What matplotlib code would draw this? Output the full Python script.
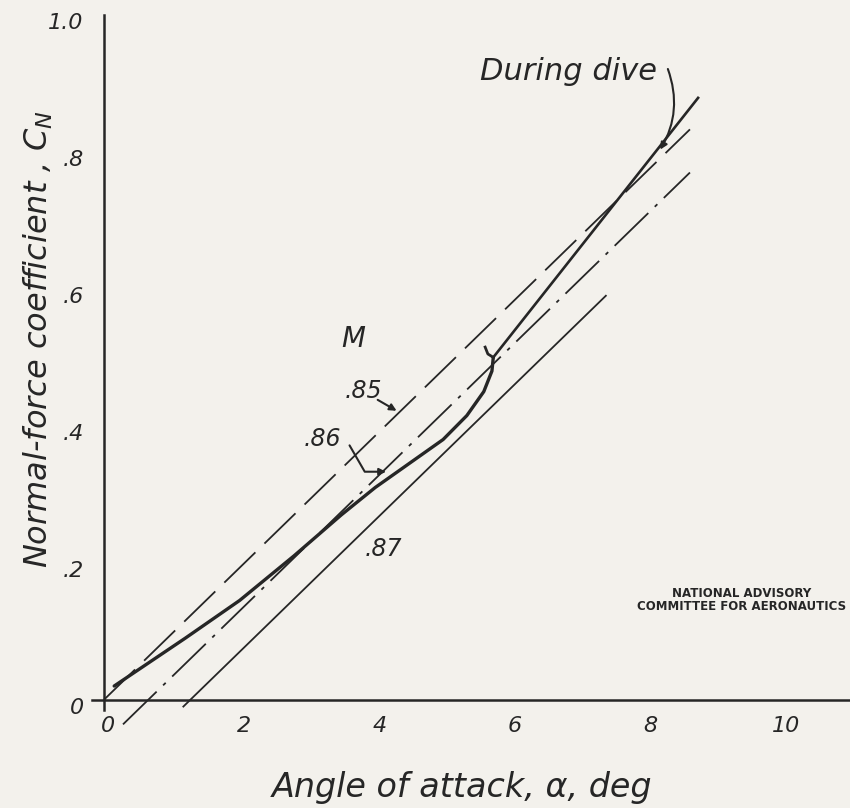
import matplotlib
matplotlib.use("Agg")
import matplotlib.pyplot as plt

# ---- data ----
x_ticks = [0, 2, 4, 6, 8, 10]
x_tick_labels = ["0", "2", "4", "6", "8", "10"]
y_ticks = [0, 0.2, 0.4, 0.6, 0.8, 1.0]
y_tick_labels = ["0", ".2", ".4", ".6", ".8", "1.0"]

# faired flight data (during dive)
dive_x = [0.15, 0.6, 1.2, 2.0, 2.8, 3.5, 4.0, 4.5, 5.0, 5.35, 5.6, 5.72, 5.74]
dive_y = [0.02, 0.05, 0.09, 0.145, 0.21, 0.27, 0.31, 0.345, 0.38, 0.415, 0.45, 0.48, 0.50]
hook_x = [5.74, 5.66, 5.62]
hook_y = [0.50, 0.505, 0.515]
dive_upper_x = [5.74, 8.76]
dive_upper_y = [0.50, 0.879]

# wind-tunnel lines for Mach numbers
m_labels = [".85", ".86", ".87"]
m85_x = [0.0, 8.64]
m85_y = [0.0, 0.833]
m86_x = [0.28, 8.64]
m86_y = [-0.036, 0.77]
m87_x = [1.17, 7.4]
m87_y = [-0.01, 0.59]

ink = "#262626"
bg = "#f3f1ec"

fig = plt.figure(figsize=(8.5, 8.08), dpi=100, facecolor=bg)
ax = fig.add_axes([0.108, 0.1213, 0.892, 0.8601])
ax.set_facecolor(bg)
ax.set_xlim(-0.18, 11.0)
ax.set_ylim(-0.015, 1.0)
for s in ax.spines.values():
    s.set_visible(False)
ax.set_xticks([])
ax.set_yticks([])

# axes lines
ax.plot([-0.18, 11.0], [0, 0], color=ink, lw=1.8, clip_on=False)
ax.plot([0, 0], [-0.015, 1.0], color=ink, lw=1.8, clip_on=False)

hand = dict(family="DejaVu Sans", style="italic", color=ink)

for xv, lab in zip(x_ticks, x_tick_labels):
    ax.text(xv + 0.06, -0.038, lab, ha="center", va="center", fontsize=16, **hand)
for yv, lab in zip(y_ticks, y_tick_labels):
    ax.text(-0.3, yv - 0.012, lab, ha="right", va="center", fontsize=16, **hand)

# M lines
ax.plot(m85_x, m85_y, color=ink, lw=1.3, dashes=(24, 7), clip_on=False)
ax.plot(m86_x, m86_y, color=ink, lw=1.3, dashes=(26, 5, 2, 5), clip_on=False)
ax.plot(m87_x, m87_y, color=ink, lw=1.3, clip_on=False)

# dive data
ax.plot(dive_x, dive_y, color=ink, lw=2.4, solid_capstyle="round")
ax.plot(hook_x, hook_y, color=ink, lw=2.0)
ax.plot(dive_upper_x, dive_upper_y, color=ink, lw=1.9)

# labels
ax.text(3.5, 0.515, "M", fontsize=20, **hand)
ax.text(3.55, 0.44, m_labels[0], fontsize=17, **hand)
ax.text(2.95, 0.37, m_labels[1], fontsize=17, **hand)
ax.text(3.85, 0.21, m_labels[2], fontsize=17, **hand)

ax.annotate("", xy=(4.35, 0.42), xytext=(4.0, 0.44),
            arrowprops=dict(arrowstyle="-|>", color=ink, lw=1.5,
                            connectionstyle="angle,angleA=-30,angleB=0,rad=0"))
ax.annotate("", xy=(4.2, 0.333), xytext=(3.6, 0.375),
            arrowprops=dict(arrowstyle="-|>", color=ink, lw=1.5,
                            connectionstyle="angle,angleA=-60,angleB=0,rad=0"))

ax.text(5.55, 0.905, "During dive", fontsize=22, **hand)
ax.annotate("", xy=(8.18, 0.80), xytext=(8.3, 0.925),
            arrowprops=dict(arrowstyle="-|>", color=ink, lw=1.5,
                            connectionstyle="arc3,rad=-0.25"))

ax.text(0.488, -0.112, "Angle of attack, α, deg", transform=ax.transAxes,
        ha="center", va="center", fontsize=24, **hand)
fig.text(0.045, 0.58, "Normal-force coefficient , $C_N$", rotation=90,
         ha="center", va="center", fontsize=23, **hand)

fig.text(0.996, 0.258, "NATIONAL ADVISORY\nCOMMITTEE FOR AERONAUTICS",
         ha="right", va="center", fontsize=8.5, fontweight="bold",
         family="DejaVu Sans", color=ink, linespacing=1.0, multialignment="center")

fig.savefig("out.png", dpi=100, facecolor=bg)
